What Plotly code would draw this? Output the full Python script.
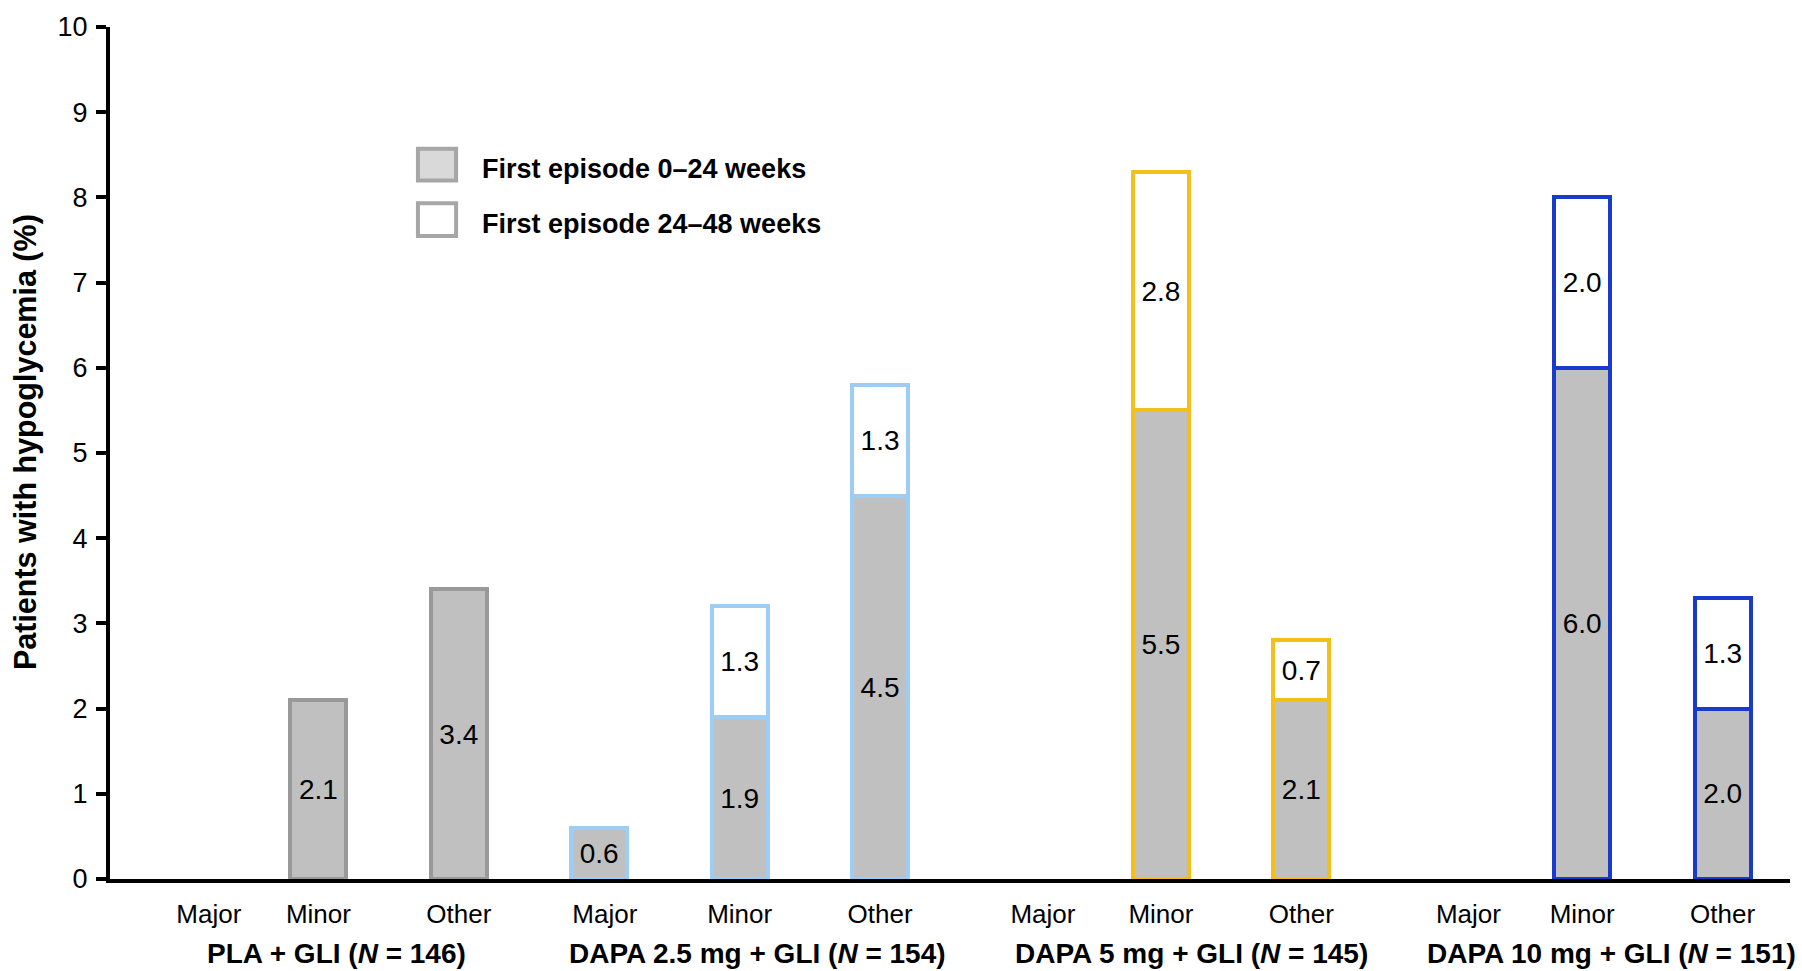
import plotly.graph_objects as go

# categories and groups
categories = ["Major", "Minor", "Other"]
groups = ["PLA + GLI (<i>N</i> = 146)",
          "DAPA 2.5 mg + GLI (<i>N</i> = 154)",
          "DAPA 5 mg + GLI (<i>N</i> = 145)",
          "DAPA 10 mg + GLI (<i>N</i> = 151)"]

# % patients, first episode 0-24 weeks (Major, Minor, Other)
pla_0_24 = [0, 2.1, 3.4]
dapa25_0_24 = [0.6, 1.9, 4.5]
dapa5_0_24 = [0, 5.5, 2.1]
dapa10_0_24 = [0, 6.0, 2.0]

# % patients, first episode 24-48 weeks
pla_24_48 = [0, 0, 0]
dapa25_24_48 = [0, 1.3, 1.3]
dapa5_24_48 = [0, 2.8, 0.7]
dapa10_24_48 = [0, 2.0, 1.3]

group_colors = ["#999999", "#9dcdf5", "#f5bf1a", "#1a3acb"]

early = pla_0_24 + dapa25_0_24 + dapa5_0_24 + dapa10_0_24
late = pla_24_48 + dapa25_24_48 + dapa5_24_48 + dapa10_24_48
slots = list(range(len(early)))
edge = [c for c in group_colors for _ in categories]


def seg(vals):
    y = [v if v else None for v in vals]
    txt = [f"{v:.1f}" if v else "" for v in vals]
    return y, txt


font = "Liberation Sans, Arial, sans-serif"
fig = go.Figure()
for vals, fill, name in [(early, "#c0c0c0", "First episode 0–24 weeks"),
                         (late, "#ffffff", "First episode 24–48 weeks")]:
    y, txt = seg(vals)
    fig.add_trace(go.Bar(x=slots, y=y, text=txt, name=name,
                         width=0.40,
                         marker=dict(color=fill, line=dict(color=edge, width=4)),
                         textposition="inside", insidetextanchor="middle",
                         textangle=0, constraintext="none",
                         insidetextfont=dict(family=font, size=28, color="black"),
                         showlegend=False))

# tick labels (empty "Major" labels sit a bit right of their slot in the original)
label_shift = [0.22, 0, 0, 0.04, 0, 0, 0.16, 0, 0, 0.19, 0, 0]
tickvals = [s + d for s, d in zip(slots, label_shift)]
ticktext = categories * len(groups)

fig.update_layout(
    width=1802, height=971,
    margin=dict(l=110, r=12, t=19, b=92),
    barmode="stack",
    plot_bgcolor="white", paper_bgcolor="white",
    font=dict(family=font, color="black"),
    xaxis=dict(range=[-0.484, 11.48], showline=True, linecolor="black", linewidth=4,
               showgrid=False, zeroline=False, ticks="",
               tickvals=tickvals, ticktext=ticktext,
               tickfont=dict(size=26), ticklabelstandoff=9),
    yaxis=dict(range=[0, 10], dtick=1, showline=True, linecolor="black", linewidth=4,
               showgrid=False, zeroline=False, ticks="outside", ticklen=10, tickwidth=4,
               tickcolor="black", tickfont=dict(size=27), ticklabelstandoff=3),
)

# y-axis title (sits a little above the plot centre in the original)
fig.add_annotation(x=-0.0506, y=0.5128, xref="paper", yref="paper",
                   text="<b>Patients with hypoglycemia (%)</b>", textangle=-90,
                   showarrow=False, font=dict(size=30.5), xanchor="center", yanchor="middle")

# group labels under the categories
group_x = [1.13, 4.13, 7.22, 10.21]
for gx, g in zip(group_x, groups):
    fig.add_annotation(x=gx, y=-0.087, xref="x", yref="paper", text=f"<b>{g}</b>",
                       showarrow=False, font=dict(size=28), xanchor="center",
                       yanchor="middle")

# hand-drawn legend
legend_items = [("#d9d9d9", "First episode 0–24 weeks", 0.857, 0.8198, 0.8337),
                ("#ffffff", "First episode 24–48 weeks", 0.793, 0.7547, 0.7686)]
for fill, label, y1, y0, ty in legend_items:
    fig.add_shape(type="rect", xref="paper", yref="paper", x0=0.1833, x1=0.206,
                  y0=y0, y1=y1, fillcolor=fill, line=dict(color="#a6a6a6", width=4))
    fig.add_annotation(x=0.2202, y=ty, xref="paper", yref="paper", text=f"<b>{label}</b>",
                       showarrow=False, xanchor="left", yanchor="middle",
                       font=dict(size=27))

fig.write_html("out.html", config={"displayModeBar": False},
               post_script="document.body.style.margin='0';document.body.style.overflow='hidden';")
